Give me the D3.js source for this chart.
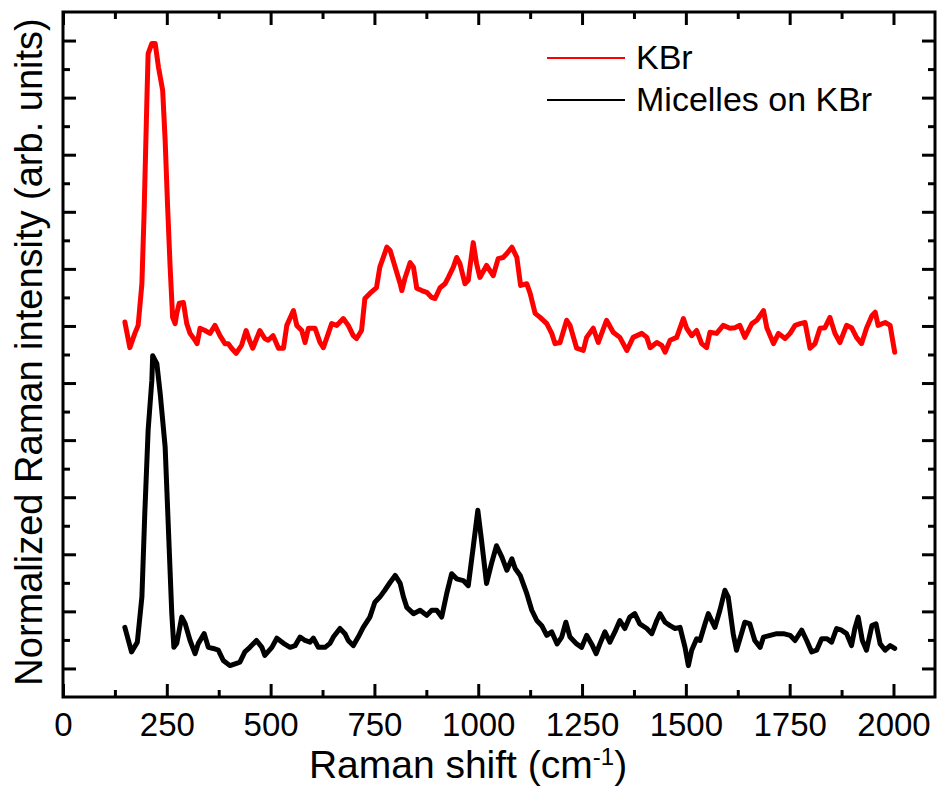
<!DOCTYPE html>
<html>
<head>
<meta charset="utf-8">
<script src="https://cdn.jsdelivr.net/npm/d3@7"></script>
<style>
  body { margin: 0; background: #fff; }
  text { font-family: "Liberation Sans", Arial, sans-serif; fill: #000; }
</style>
</head>
<body>
<div id="chart"></div>
<script>
// KBr spectrum (red)
const kbrShift = [149,161,173,181,190,195,202,205,214,222,
  230,240,246,252,258,264,270,274,280,290,
  298,306,318,323,330,342,354,366,378,390,
  398,406,417,430,441,449,457,474,486,494,
  506,519,531,539,555,563,575,583,591,607,
  619,627,639,647,659,675,687,699,707,719,
  727,739,755,763,780,788,800,812,816,824,
  836,844,852,864,876,888,896,908,920,928,
  940,948,956,968,976,980,988,996,1004,1020,
  1036,1048,1060,1069,1081,1093,1102,1117,1125,1137,
  1149,1165,1177,1185,1197,1213,1221,1237,1253,1261,
  1277,1289,1309,1325,1341,1358,1373,1394,1406,1414,
  1430,1442,1450,1462,1478,1494,1502,1514,1526,1538,
  1550,1558,1574,1590,1606,1618,1630,1642,1659,1671,
  1687,1695,1711,1723,1739,1751,1763,1775,1787,1799,
  1811,1823,1835,1847,1859,1871,1887,1899,1911,1923,
  1935,1948,1956,1963,1980,1992,1998,2003];
const kbrIntensity = [6.07,5.62,5.87,6.01,6.74,7.90,9.95,10.77,10.95,10.95,
  10.53,10.13,9.25,8.08,7.03,6.15,6.04,6.22,6.40,6.41,
  6.04,5.87,5.75,5.69,5.96,5.92,5.87,6.01,5.83,5.69,
  5.69,5.61,5.52,5.66,5.92,5.75,5.61,5.92,5.78,5.75,
  5.83,5.61,5.61,6.01,6.27,6.01,5.92,5.71,5.96,5.96,
  5.71,5.62,5.87,6.04,6.01,6.13,6.01,5.83,5.78,5.92,
  6.48,6.57,6.67,7.03,7.38,7.32,7.03,6.74,6.62,6.85,
  7.11,7.03,6.66,6.62,6.59,6.50,6.48,6.67,6.74,6.85,
  7.03,7.20,7.09,6.74,6.80,7.03,7.46,7.09,6.85,7.06,
  6.88,7.18,7.20,7.27,7.38,7.20,6.71,6.74,6.57,6.22,
  6.15,6.04,5.87,5.69,5.71,6.10,6.01,5.61,5.57,5.80,
  5.96,5.71,6.10,5.89,5.80,5.57,5.80,5.87,5.80,5.62,
  5.71,5.66,5.54,5.75,5.80,6.13,5.96,5.83,5.92,5.69,
  5.62,5.89,5.87,6.01,5.96,5.97,6.01,5.80,6.04,6.10,
  6.27,5.97,5.69,5.87,5.78,5.87,6.01,6.04,6.06,5.61,
  5.69,5.96,5.97,6.15,5.87,5.71,6.01,5.97,5.80,5.69,
  5.96,6.18,6.24,6.01,6.06,6.01,5.75,5.54];

// Micelles on KBr spectrum (black)
const micShift = [149,165,179,190,197,205,214,216,226,234,
  246,254,262,267,274,286,294,306,318,326,
  340,350,362,374,386,402,418,426,438,450,
  466,479,486,503,515,531,547,559,571,583,
  595,603,615,631,643,651,667,679,687,699,
  711,723,739,751,763,775,788,800,812,820,
  828,844,860,876,888,900,912,924,936,948,
  964,976,988,999,1008,1020,1032,1044,1057,1069,
  1081,1089,1101,1117,1129,1141,1153,1165,1177,1190,
  1201,1211,1221,1237,1249,1261,1273,1284,1293,1305,
  1317,1329,1341,1353,1365,1377,1389,1406,1418,1430,
  1438,1450,1462,1474,1486,1498,1506,1514,1526,1534,
  1546,1554,1570,1582,1594,1602,1614,1622,1634,1642,
  1654,1666,1679,1687,1703,1719,1735,1751,1763,1779,
  1791,1803,1815,1827,1840,1851,1863,1875,1887,1899,
  1907,1915,1925,1935,1948,1958,1968,1980,1992,2003];
const micIntensity = [0.72,0.29,0.46,1.25,2.72,4.17,5.05,5.48,5.34,4.82,
  3.88,2.42,0.96,0.37,0.44,0.90,0.79,0.49,0.26,0.44,
  0.61,0.37,0.35,0.32,0.14,0.05,0.09,0.11,0.29,0.37,
  0.49,0.37,0.23,0.37,0.53,0.44,0.37,0.40,0.55,0.49,
  0.46,0.53,0.37,0.37,0.44,0.55,0.70,0.61,0.49,0.40,
  0.55,0.72,0.90,1.16,1.25,1.37,1.51,1.63,1.49,1.25,
  1.07,0.96,1.02,0.93,1.02,1.02,0.90,1.31,1.66,1.57,
  1.54,1.45,2.13,2.77,2.24,1.49,1.84,2.15,1.95,1.72,
  1.92,1.75,1.63,1.31,1.02,0.84,0.75,0.58,0.64,0.43,
  0.55,0.81,0.55,0.43,0.37,0.58,0.43,0.26,0.43,0.64,
  0.46,0.64,0.84,0.70,0.90,0.96,0.78,0.70,0.61,0.84,
  0.96,0.81,0.75,0.70,0.72,0.37,0.05,0.32,0.52,0.49,
  0.78,0.96,0.72,1.02,1.37,1.25,0.61,0.32,0.61,0.81,
  0.78,0.49,0.37,0.55,0.58,0.61,0.61,0.58,0.49,0.67,
  0.49,0.29,0.32,0.52,0.52,0.46,0.70,0.67,0.61,0.40,
  0.70,0.90,0.49,0.32,0.75,0.78,0.43,0.32,0.40,0.35];

const xTicks = [0, 250, 500, 750, 1000, 1250, 1500, 1750, 2000];
const seriesNames = ["KBr", "Micelles on KBr"];
const seriesColors = ["#ff0000", "#000000"];

let margin = { top: 12, left: 63, right: 5, bottom: 93 },
  width = 940 - margin.left - margin.right,
  height = 790 - margin.top - margin.bottom;

let svg = d3.select("#chart")
  .append("svg")
  .attr("width", 940)
  .attr("height", 790);

let g = svg.append("g")
  .attr("transform", "translate(" + margin.left + "," + margin.top + ")");

let xScale = d3.scaleLinear().domain([0, 2100]).range([0, width]);
let yScale = d3.scaleLinear().domain([-0.5, 11.5]).range([height, 0]);

let xMinor = d3.range(125, 2100, 250);
let yMajor = d3.range(0, 12, 1);
let yMinor = d3.range(0.5, 11.5, 1);

// bottom axis with labels, ticks pointing inward
let bottomAxis = g.append("g")
  .attr("transform", "translate(0," + height + ")")
  .call(d3.axisBottom(xScale).tickValues(xTicks).tickSize(-13).tickPadding(16).tickFormat(d3.format("d")));
bottomAxis.append("g").call(d3.axisBottom(xScale).tickValues(xMinor).tickSize(-7).tickFormat(""));

let topAxis = g.append("g")
  .call(d3.axisTop(xScale).tickValues(xTicks).tickSize(-13).tickFormat(""));
topAxis.append("g").call(d3.axisTop(xScale).tickValues(xMinor).tickSize(-7).tickFormat(""));

let leftAxis = g.append("g")
  .call(d3.axisLeft(yScale).tickValues(yMajor).tickSize(-13).tickFormat(""));
leftAxis.append("g").call(d3.axisLeft(yScale).tickValues(yMinor).tickSize(-7).tickFormat(""));

let rightAxis = g.append("g")
  .attr("transform", "translate(" + width + ",0)")
  .call(d3.axisRight(yScale).tickValues(yMajor).tickSize(-13).tickFormat(""));
rightAxis.append("g").call(d3.axisRight(yScale).tickValues(yMinor).tickSize(-7).tickFormat(""));

g.selectAll(".domain").remove();
g.selectAll(".tick line").attr("stroke", "#000").attr("stroke-width", 3);
bottomAxis.selectAll(".tick text")
  .style("font-size", "33px")
  .style("font-family", "Liberation Sans, Arial, sans-serif")
  .attr("fill", "#000");

// frame
g.append("rect")
  .attr("width", width)
  .attr("height", height)
  .attr("fill", "none")
  .attr("stroke", "#000")
  .attr("stroke-width", 3);

let line = d3.line()
  .x(d => xScale(d[0]))
  .y(d => yScale(d[1]));

let kbrData = kbrShift.map((s, i) => [s, kbrIntensity[i]]);
let micData = micShift.map((s, i) => [s, micIntensity[i]]);

[kbrData, micData].forEach((data, i) => {
  g.append("path")
    .datum(data)
    .attr("fill", "none")
    .attr("stroke", seriesColors[i])
    .attr("stroke-width", 5)
    .attr("stroke-linejoin", "round")
    .attr("stroke-linecap", "round")
    .attr("d", line);
});

// legend
let legend = svg.append("g");
seriesNames.forEach((name, i) => {
  let y = 58 + i * 42;
  legend.append("line")
    .attr("x1", 547).attr("x2", 625)
    .attr("y1", y).attr("y2", y)
    .attr("stroke", seriesColors[i])
    .attr("stroke-width", 2);
  legend.append("text")
    .attr("x", 636)
    .attr("y", y + 11)
    .style("font-size", "34px")
    .text(name);
});

// axis titles
let xTitle = svg.append("text")
  .attr("x", 468)
  .attr("y", 778)
  .attr("text-anchor", "middle")
  .style("font-size", "39px");
xTitle.append("tspan").text("Raman shift (cm");
xTitle.append("tspan").attr("dy", -13).style("font-size", "24px").text("-1");
xTitle.append("tspan").attr("dy", 13).text(")");

svg.append("text")
  .attr("transform", "translate(42,352) rotate(-90)")
  .attr("text-anchor", "middle")
  .style("font-size", "38px")
  .text("Normalized Raman intensity (arb. units)");
</script>
</body>
</html>
